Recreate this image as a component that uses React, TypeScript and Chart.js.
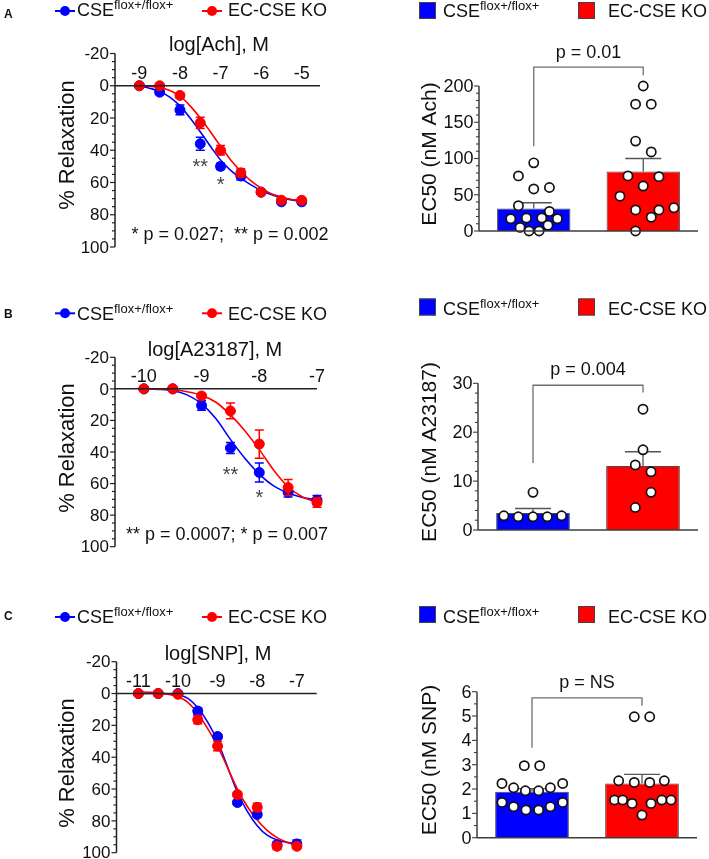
import React, { useEffect, useRef } from "react";
import { Chart, registerables } from "chart.js";

Chart.register(...registerables);

const FONT = '"Liberation Sans", Arial, Helvetica, sans-serif';
const BLUE = "#0000FF";
const RED = "#FF0000";
const INK = "#111111";
const AXIS = "#222222";
const BAR_AXIS = "#3c3c3c";
const GRAY = "#6e6e6e";

// ---------- Shared labels ----------
const WT_LABEL = "CSE";
const WT_SUP = "flox+/flox+";
const KO_LABEL = "EC-CSE KO";
const CURVE_Y_TICKS = [-20, 0, 20, 40, 60, 80, 100];

// ---------- Panel A : Ach ----------
const A_DOSE = [-9, -8.5, -8, -7.5, -7, -6.5, -6, -5.5, -5];
const A_WT = [0, 4, 15, 36, 50, 56, 66, 72, 72];
const A_WT_SEM = [0.6, 1.5, 3, 4, 2, 2.5, 1, 1, 1];
const A_KO = [0, 0, 6, 23, 40, 54, 66, 71, 71];
const A_KO_SEM = [0.6, 1, 1.5, 3.5, 3, 2.5, 1, 1, 1];
const A_FIT_X = [-9, -8.75, -8.5, -8.25, -8, -7.75, -7.5, -7.25, -7, -6.75, -6.5, -6.25, -6, -5.75, -5.5, -5.25, -5];
const A_FIT_WT = [0, 1.5, 3.5, 7, 12.5, 20, 28.5, 37.5, 46, 52.5, 57.5, 61.5, 65, 67.5, 69.5, 70.8, 71.5];
const A_FIT_KO = [0, 0.3, 1, 3, 6.5, 12.5, 20, 28.5, 37.5, 46, 53, 59, 63.5, 67, 69, 70.5, 71.2];
const A_X_TICKS = [-9, -8, -7, -6, -5];
const A_EC50_MEAN = [31, 82];
const A_EC50_SEM = [8, 18];
const A_EC50_WT = [94, 76, 58, 60, 35, 27, 17, 18, 18, 17, 5, 8, 0, 0];
const A_EC50_WT_JIT = [0, -0.14, 0, 0.143, -0.14, 0.143, -0.21, -0.067, 0.073, 0.216, -0.125, 0.13, -0.043, 0.049];
const A_EC50_KO = [200, 175, 175, 124, 109, 76, 75, 62, 48, 32, 29, 29, 19, 0];
const A_EC50_KO_JIT = [0, -0.07, 0.073, -0.07, 0.073, -0.14, 0.143, 0, -0.213, 0.28, -0.07, 0.143, 0.073, -0.07];
const A_Y_TICKS = [0, 50, 100, 150, 200];

// ---------- Panel B : A23187 ----------
const B_DOSE = [-10, -9.5, -9, -8.5, -8, -7.5, -7];
const B_WT = [0, 0, 10.5, 37.5, 53, 65.5, 70.5];
const B_WT_SEM = [0.6, 0.6, 3, 3.5, 6, 3, 3];
const B_KO = [0, 0, 4.5, 14, 35, 62.5, 72];
const B_KO_SEM = [0.5, 0.5, 1.5, 5, 9, 5, 3];
const B_FIT_X = [-10, -9.75, -9.5, -9.25, -9, -8.75, -8.5, -8.25, -8, -7.75, -7.5, -7.25, -7];
const B_FIT_WT = [0, 0.3, 1, 3.8, 9.5, 19, 32, 44, 54, 61.5, 66, 68.8, 70.3];
const B_FIT_KO = [0, 0.2, 0.6, 1.8, 4, 8.5, 16.5, 26.5, 38.5, 51.5, 62, 68.5, 71.8];
const B_X_TICKS = [-10, -9, -8, -7];
const B_EC50_MEAN = [3.5, 13.1];
const B_EC50_SEM = [0.9, 2.9];
const B_EC50_WT = [7.7, 2.9, 2.7, 2.7, 2.7, 2.9];
const B_EC50_WT_JIT = [0, -0.265, -0.134, 0, 0.13, 0.26];
const B_EC50_KO = [24.7, 16.4, 13.3, 11.9, 7.7, 4.6];
const B_EC50_KO_JIT = [0, 0, -0.07, 0.073, 0.073, -0.07];
const B_Y_TICKS = [0, 10, 20, 30];

// ---------- Panel C : SNP ----------
const C_DOSE = [-11, -10.5, -10, -9.5, -9, -8.5, -8, -7.5, -7];
const C_WT = [0, 0, 0, 11, 27, 68.5, 76, 95, 94.5];
const C_WT_SEM = [0.5, 0.5, 0.5, 2, 1.5, 1.5, 1.5, 2, 2.5];
const C_KO = [0, 0, 0.5, 16.5, 33, 63.5, 71.5, 96, 96];
const C_KO_SEM = [0.5, 0.5, 0.5, 2.5, 3, 1.5, 2.5, 2, 1.5];
const C_FIT_X = [-11, -10.75, -10.5, -10.25, -10, -9.75, -9.5, -9.25, -9, -8.75, -8.5, -8.25, -8, -7.75, -7.5, -7.25, -7];
const C_FIT_WT = [0, 0, 0, 0.2, 0.8, 3, 9, 18, 30, 46, 62, 74, 83, 89, 92, 93.5, 94.3];
const C_FIT_KO = [-1, -0.8, -0.5, 0.5, 2, 5.5, 12.5, 22, 33, 46.5, 60, 71, 79.5, 86, 90.5, 93.5, 95.5];
const C_X_TICKS = [-11, -10, -9, -8, -7];
const C_EC50_MEAN = [1.89, 2.23];
const C_EC50_SEM = [0.13, 0.37];
const C_EC50_WT = [2.96, 2.96, 2.23, 2.05, 1.93, 1.93, 2.05, 2.23, 1.45, 1.27, 1.14, 1.14, 1.27, 1.45];
const C_EC50_WT_JIT = [-0.07, 0.07, -0.273, -0.167, -0.06, 0.06, 0.167, 0.279, -0.273, -0.167, -0.055, 0.06, 0.167, 0.279];
const C_EC50_KO = [4.97, 4.97, 2.34, 2.27, 2.27, 2.34, 1.55, 1.55, 1.41, 0.93, 1.41, 1.55, 1.55];
const C_EC50_KO_JIT = [-0.07, 0.07, -0.212, -0.07, 0.07, 0.203, -0.25, -0.176, -0.09, 0, 0.082, 0.18, 0.264];
const C_Y_TICKS = [0, 1, 2, 3, 4, 5, 6];

// ---------- helpers ----------
type Box = { x: number; y: number; w: number; h: number };
type Area = { l: number; t: number; r: number; b: number };

const fnt = (size: number, bold = false) => `${bold ? "bold " : ""}${size}px ${FONT}`;

function txt(ctx: any, s: string, x: number, y: number, font: string, align = "left", baseline = "alphabetic", color = INK) {
  ctx.save();
  ctx.font = font;
  ctx.textAlign = align;
  ctx.textBaseline = baseline;
  ctx.fillStyle = color;
  ctx.fillText(s, x, y);
  ctx.restore();
}

function seg(ctx: any, x1: number, y1: number, x2: number, y2: number, color: string, w: number) {
  ctx.save();
  ctx.strokeStyle = color;
  ctx.lineWidth = w;
  ctx.beginPath();
  ctx.moveTo(x1, y1);
  ctx.lineTo(x2, y2);
  ctx.stroke();
  ctx.restore();
}

function wtLabel(ctx: any, x: number, base: number) {
  ctx.save();
  ctx.font = fnt(18);
  const w = ctx.measureText(WT_LABEL).width;
  ctx.restore();
  txt(ctx, WT_LABEL, x, base, fnt(18));
  txt(ctx, WT_SUP, x + w, base - 7, fnt(13));
}

function rotText(ctx: any, s: string, cx: number, cy: number, font: string) {
  ctx.save();
  ctx.translate(cx, cy);
  ctx.rotate(-Math.PI / 2);
  txt(ctx, s, 0, 0, font, "center", "middle");
  ctx.restore();
}

function paddingFor(box: Box, area: Area) {
  return { left: area.l - box.x, top: area.t - box.y, right: box.x + box.w - area.r, bottom: box.y + box.h - area.b };
}

const baseOptions = (box: Box, area: Area) => ({
  responsive: false,
  maintainAspectRatio: false,
  animation: false,
  devicePixelRatio: 1,
  events: [],
  layout: { padding: paddingFor(box, area) },
  plugins: { legend: { display: false }, tooltip: { enabled: false } },
});

// ---------- curve panels ----------
interface CurveSpec {
  box: Box; area: Area; xMin: number; xMax: number; xTicks: number[];
  xTitle: string; titleX: number; titleBase: number; yTitleY: number;
  dose: number[]; wt: number[]; wtSem: number[]; ko: number[]; koSem: number[];
  fitX: number[]; fitWt: number[]; fitKo: number[];
  letter: string; letterBase: number; legendY: number; legendBase: number;
  stars: [string, number, number][];
  note?: string; noteX?: number; noteBase?: number;
}

function curveConfig(s: CurveSpec): any {
  const { box } = s;
  const pts = (xs: number[], ys: number[]) => xs.map((x, i) => ({ x, y: ys[i] }));
  const errPlugin = {
    id: "errbars",
    beforeDatasetDraw(chart: any, args: any) {
      const ds = chart.data.datasets[args.index];
      if (!ds.sem) return;
      const ctx = chart.ctx;
      const xs = chart.scales.x;
      const ys = chart.scales.y;
      ctx.save();
      ctx.strokeStyle = ds.pointBackgroundColor;
      ctx.lineWidth = 1.5;
      ds.data.forEach((p: any, i: number) => {
        const e = ds.sem[i];
        if (!e) return;
        const px = xs.getPixelForValue(p.x);
        const y1 = ys.getPixelForValue(p.y - e);
        const y2 = ys.getPixelForValue(p.y + e);
        ctx.beginPath();
        ctx.moveTo(px, y1); ctx.lineTo(px, y2);
        ctx.moveTo(px - 4.5, y1); ctx.lineTo(px + 4.5, y1);
        ctx.moveTo(px - 4.5, y2); ctx.lineTo(px + 4.5, y2);
        ctx.stroke();
      });
      ctx.restore();
    },
  };
  const deco = {
    id: "deco",
    afterDraw(chart: any) {
      const ctx = chart.ctx;
      const xs = chart.scales.x;
      const ys = chart.scales.y;
      const X = (v: number) => xs.getPixelForValue(v) + box.x;
      const Y = (v: number) => ys.getPixelForValue(v) + box.y;
      const L = chart.chartArea.left + box.x;
      const R = chart.chartArea.right + box.x;
      ctx.save();
      ctx.translate(-box.x, -box.y);
      // y axis
      seg(ctx, L, Y(-20), L, Y(100), AXIS, 1.5);
      for (let v = -20; v <= 100; v += 5) {
        const major = CURVE_Y_TICKS.includes(v);
        seg(ctx, L - (major ? 5 : 3), Y(v), L, Y(v), AXIS, 1.2);
      }
      CURVE_Y_TICKS.forEach((v) => txt(ctx, String(v), L - 6, Y(v) + 1, fnt(17), "right", "middle"));
      // x axis at y = 0
      seg(ctx, L, Y(0), R, Y(0), AXIS, 1.5);
      s.xTicks.forEach((t) => txt(ctx, String(t), X(t), Y(0) - 7, fnt(18), "center", "alphabetic"));
      txt(ctx, s.xTitle, s.titleX, s.titleBase, fnt(20), "center");
      rotText(ctx, "% Relaxation", 68, s.yTitleY, fnt(22));
      // significance stars (baseline at the given value)
      s.stars.forEach(([str, dx, dy]) => txt(ctx, str, X(dx), Y(dy), fnt(20), "center", "alphabetic", "#444"));
      if (s.note) txt(ctx, s.note, s.noteX!, s.noteBase!, fnt(18), "center");
      // letter + legend
      txt(ctx, s.letter, 4, s.letterBase, fnt(12, true));
      const mk = (x0: number, color: string) => {
        seg(ctx, x0, s.legendY, x0 + 20, s.legendY, color, 2);
        ctx.save();
        ctx.fillStyle = color;
        ctx.beginPath();
        ctx.arc(x0 + 10, s.legendY, 5, 0, Math.PI * 2);
        ctx.fill();
        ctx.restore();
      };
      mk(55, BLUE);
      wtLabel(ctx, 77, s.legendBase);
      mk(202, RED);
      txt(ctx, KO_LABEL, 228, s.legendBase, fnt(18));
      ctx.restore();
    },
  };
  return {
    type: "scatter",
    data: {
      datasets: [
        { label: "fit WT", data: pts(s.fitX, s.fitWt), showLine: true, borderColor: BLUE, borderWidth: 1.6, pointRadius: 0, cubicInterpolationMode: "monotone", order: 4, clip: false },
        { label: "fit KO", data: pts(s.fitX, s.fitKo), showLine: true, borderColor: RED, borderWidth: 1.6, pointRadius: 0, cubicInterpolationMode: "monotone", order: 3, clip: false },
        { label: WT_LABEL + WT_SUP, data: pts(s.dose, s.wt), sem: s.wtSem, showLine: false, pointRadius: 5, pointBackgroundColor: BLUE, pointBorderColor: BLUE, pointBorderWidth: 1, order: 2, clip: false },
        { label: KO_LABEL, data: pts(s.dose, s.ko), sem: s.koSem, showLine: false, pointRadius: 5, pointBackgroundColor: RED, pointBorderColor: RED, pointBorderWidth: 1, order: 1, clip: false },
      ],
    },
    options: {
      ...baseOptions(s.box, s.area),
      scales: {
        x: { type: "linear", display: false, min: s.xMin, max: s.xMax },
        y: { type: "linear", display: false, min: -20, max: 100, reverse: true },
      },
    },
    plugins: [errPlugin, deco],
  };
}

// ---------- bar panels ----------
interface BarSpec {
  box: Box; area: Area; yMax: number; yTicks: number[]; yMinor: number;
  yTitle: string; yTitleY: number;
  mean: number[]; sem: number[];
  wt: number[]; wtJit: number[]; ko: number[]; koJit: number[];
  bracket: [number, number, number];
  pText: string; pBase: number; sqY: number; legendBase: number;
}

function barConfig(s: BarSpec): any {
  const { box } = s;
  const dots = (vals: number[], jit: number[], g: number) => vals.map((v, i) => ({ x: g + jit[i], y: v }));
  const dotStyle = { pointRadius: 4.6, pointBackgroundColor: "#ffffff", pointBorderColor: "#111111", pointBorderWidth: 1.7, clip: false };
  const semPlugin = {
    id: "sem",
    afterDatasetDraw(chart: any, args: any) {
      if (args.index !== 0) return;
      const ctx = chart.ctx;
      const ys = chart.scales.y;
      const meta = chart.getDatasetMeta(0);
      ctx.save();
      ctx.strokeStyle = "#555555";
      ctx.lineWidth = 1.3;
      meta.data.forEach((el: any, i: number) => {
        const y1 = ys.getPixelForValue(s.mean[i]);
        const y2 = ys.getPixelForValue(s.mean[i] + s.sem[i]);
        ctx.beginPath();
        ctx.moveTo(el.x, y1); ctx.lineTo(el.x, y2);
        ctx.moveTo(el.x - 18, y2); ctx.lineTo(el.x + 18, y2);
        ctx.stroke();
      });
      ctx.restore();
    },
  };
  const deco = {
    id: "deco",
    afterDraw(chart: any) {
      const ctx = chart.ctx;
      const xs = chart.scales.x2;
      const ys = chart.scales.y;
      const X = (v: number) => xs.getPixelForValue(v) + box.x;
      const Y = (v: number) => ys.getPixelForValue(v) + box.y;
      const L = chart.chartArea.left + box.x;
      const R = chart.chartArea.right + box.x;
      ctx.save();
      ctx.translate(-box.x, -box.y);
      seg(ctx, L, Y(s.yMax), L, Y(0), BAR_AXIS, 1.5);
      seg(ctx, L, Y(0), R, Y(0), BAR_AXIS, 1.5);
      const n = Math.round(s.yMax / s.yMinor);
      for (let k = 0; k <= n; k++) {
        const v = k * s.yMinor;
        const major = s.yTicks.some((t) => Math.abs(t - v) < 1e-6);
        seg(ctx, L - (major ? 5 : 3), Y(v), L, Y(v), BAR_AXIS, 1.1);
      }
      s.yTicks.forEach((t) => txt(ctx, String(t), L - 5.5, Y(t) + 1, fnt(18), "right", "middle"));
      rotText(ctx, s.yTitle, 430, s.yTitleY, fnt(21));
      // bracket
      const [top, lb, rb] = s.bracket;
      ctx.save();
      ctx.strokeStyle = GRAY;
      ctx.lineWidth = 1.3;
      ctx.beginPath();
      ctx.moveTo(X(0), Y(lb)); ctx.lineTo(X(0), Y(top)); ctx.lineTo(X(1), Y(top)); ctx.lineTo(X(1), Y(rb));
      ctx.stroke();
      ctx.restore();
      txt(ctx, s.pText, (X(0) + X(1)) / 2, s.pBase, fnt(18), "center");
      // legend
      ctx.save();
      ctx.strokeStyle = "#444";
      ctx.lineWidth = 1;
      ctx.fillStyle = BLUE;
      ctx.fillRect(419, s.sqY - 8.5, 17, 17);
      ctx.strokeRect(419.5, s.sqY - 8, 16, 16);
      ctx.fillStyle = RED;
      ctx.fillRect(578, s.sqY - 8.5, 17, 17);
      ctx.strokeRect(578.5, s.sqY - 8, 16, 16);
      ctx.restore();
      wtLabel(ctx, 443, s.legendBase);
      txt(ctx, KO_LABEL, 608, s.legendBase, fnt(18));
      ctx.restore();
    },
  };
  return {
    type: "bar",
    data: {
      labels: [WT_LABEL + WT_SUP, KO_LABEL],
      datasets: [
        { type: "bar", data: s.mean, backgroundColor: [BLUE, RED], borderColor: "#4a4a4a", borderWidth: 1, barPercentage: 0.67, categoryPercentage: 1, grouped: false, xAxisID: "x", yAxisID: "y", order: 3 },
        { type: "scatter", data: dots(s.wt, s.wtJit, 0), xAxisID: "x2", yAxisID: "y", order: 2, ...dotStyle },
        { type: "scatter", data: dots(s.ko, s.koJit, 1), xAxisID: "x2", yAxisID: "y", order: 1, ...dotStyle },
      ],
    },
    options: {
      ...baseOptions(s.box, s.area),
      scales: {
        x: { type: "category", display: false, offset: true },
        x2: { type: "linear", display: false, min: -0.5, max: 1.5, offset: false },
        y: { type: "linear", display: false, min: 0, max: s.yMax },
      },
    },
    plugins: [semPlugin, deco],
  };
}

// ---------- specs ----------
const SPEC_A_CURVE: CurveSpec = {
  box: { x: 0, y: 0, w: 355, h: 262 }, area: { l: 115, t: 53.5, r: 320, b: 247 },
  xMin: -9.6, xMax: -4.55, xTicks: A_X_TICKS, xTitle: "log[Ach], M", titleX: 219, titleBase: 51, yTitleY: 145,
  dose: A_DOSE, wt: A_WT, wtSem: A_WT_SEM, ko: A_KO, koSem: A_KO_SEM,
  fitX: A_FIT_X, fitWt: A_FIT_WT, fitKo: A_FIT_KO,
  letter: "A", letterBase: 18, legendY: 11, legendBase: 16,
  stars: [["**", -7.5, 54], ["*", -7, 65]],
  note: "* p = 0.027;  ** p = 0.002", noteX: 230, noteBase: 240,
};
const SPEC_A_BAR: BarSpec = {
  box: { x: 355, y: 0, w: 354, h: 262 }, area: { l: 479, t: 86, r: 698, b: 231 },
  yMax: 200, yTicks: A_Y_TICKS, yMinor: 10, yTitle: "EC50 (nM Ach)", yTitleY: 154,
  mean: A_EC50_MEAN, sem: A_EC50_SEM, wt: A_EC50_WT, wtJit: A_EC50_WT_JIT, ko: A_EC50_KO, koJit: A_EC50_KO_JIT,
  bracket: [226, 117, 215], pText: "p = 0.01", pBase: 58, sqY: 10.5, legendBase: 17,
};
const SPEC_B_CURVE: CurveSpec = {
  box: { x: 0, y: 262, w: 355, h: 296 }, area: { l: 115, t: 357.3, r: 317, b: 546.7 },
  xMin: -10.5, xMax: -7, xTicks: B_X_TICKS, xTitle: "log[A23187], M", titleX: 215, titleBase: 356, yTitleY: 448,
  dose: B_DOSE, wt: B_WT, wtSem: B_WT_SEM, ko: B_KO, koSem: B_KO_SEM,
  fitX: B_FIT_X, fitWt: B_FIT_WT, fitKo: B_FIT_KO,
  letter: "B", letterBase: 318, legendY: 313.3, legendBase: 319.5,
  stars: [["**", -8.5, 58.5], ["*", -8, 73]],
  note: "** p = 0.0007; * p = 0.007", noteX: 227, noteBase: 539.5,
};
const SPEC_B_BAR: BarSpec = {
  box: { x: 355, y: 262, w: 354, h: 296 }, area: { l: 478, t: 383.3, r: 698, b: 530 },
  yMax: 30, yTicks: B_Y_TICKS, yMinor: 2, yTitle: "EC50 (nM A23187)", yTitleY: 452,
  mean: B_EC50_MEAN, sem: B_EC50_SEM, wt: B_EC50_WT, wtJit: B_EC50_WT_JIT, ko: B_EC50_KO, koJit: B_EC50_KO_JIT,
  bracket: [29.6, 13.7, 28.1], pText: "p = 0.004", pBase: 375, sqY: 307, legendBase: 315,
};
const SPEC_C_CURVE: CurveSpec = {
  box: { x: 0, y: 558, w: 355, h: 301 }, area: { l: 116.5, t: 661.7, r: 316.7, b: 852.7 },
  xMin: -11.55, xMax: -6.5, xTicks: C_X_TICKS, xTitle: "log[SNP], M", titleX: 218, titleBase: 660, yTitleY: 763,
  dose: C_DOSE, wt: C_WT, wtSem: C_WT_SEM, ko: C_KO, koSem: C_KO_SEM,
  fitX: C_FIT_X, fitWt: C_FIT_WT, fitKo: C_FIT_KO,
  letter: "C", letterBase: 620, legendY: 617, legendBase: 623,
  stars: [],
};
const SPEC_C_BAR: BarSpec = {
  box: { x: 355, y: 558, w: 354, h: 301 }, area: { l: 477, t: 691.7, r: 697, b: 837.7 },
  yMax: 6, yTicks: C_Y_TICKS, yMinor: 0.5, yTitle: "EC50 (nM SNP)", yTitleY: 760,
  mean: C_EC50_MEAN, sem: C_EC50_SEM, wt: C_EC50_WT, wtJit: C_EC50_WT_JIT, ko: C_EC50_KO, koJit: C_EC50_KO_JIT,
  bracket: [5.75, 3.7, 5.42], pText: "p = NS", pBase: 688, sqY: 614.5, legendBase: 622.5,
};

function ChartBox({ box, make }: { box: Box; make: () => any }) {
  const ref = useRef<HTMLCanvasElement | null>(null);
  useEffect(() => {
    if (!ref.current) return;
    const chart = new Chart(ref.current, make());
    return () => chart.destroy();
  }, []);
  return (
    <canvas
      ref={ref}
      width={box.w}
      height={box.h}
      style={{ position: "absolute", left: box.x, top: box.y, width: box.w, height: box.h }}
    />
  );
}

export default function App() {
  return (
    <div style={{ position: "absolute", left: 0, top: 0, width: 709, height: 859, background: "#ffffff", overflow: "hidden" }}>
      <ChartBox box={SPEC_A_CURVE.box} make={() => curveConfig(SPEC_A_CURVE)} />
      <ChartBox box={SPEC_A_BAR.box} make={() => barConfig(SPEC_A_BAR)} />
      <ChartBox box={SPEC_B_CURVE.box} make={() => curveConfig(SPEC_B_CURVE)} />
      <ChartBox box={SPEC_B_BAR.box} make={() => barConfig(SPEC_B_BAR)} />
      <ChartBox box={SPEC_C_CURVE.box} make={() => curveConfig(SPEC_C_CURVE)} />
      <ChartBox box={SPEC_C_BAR.box} make={() => barConfig(SPEC_C_BAR)} />
    </div>
  );
}
